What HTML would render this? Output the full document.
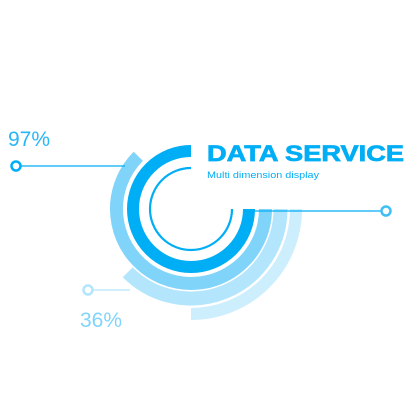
<!DOCTYPE html>
<html><head><style>html,body{margin:0;padding:0;background:#fff;}svg{display:block}</style></head>
<body>
<svg width="410" height="410" viewBox="0 0 410 410" xmlns="http://www.w3.org/2000/svg" font-family="Liberation Sans, sans-serif">
<g fill="none">
<path d="M191 314 A105 105 0 0 0 296 209" stroke="#cdeefd" stroke-width="12"/>
<path d="M127.7 272.3 A89.5 89.5 0 0 0 280.5 209" stroke="#b3e5fc" stroke-width="14"/>
<path d="M138.3 156.3 A74.5 74.5 0 1 0 265.5 209" stroke="#80d4fa" stroke-width="13"/>
<path d="M191 151 A58 58 0 1 0 249 209" stroke="#00aef5" stroke-width="12"/>
<path d="M191 168 A41 41 0 1 0 232 209" stroke="#00aef5" stroke-width="2.2"/>
<line x1="20" y1="166" x2="125" y2="166" stroke="#00aef5" stroke-width="1.2"/>
<circle cx="16" cy="166" r="4.5" stroke="#00aef5" stroke-width="2.5" fill="#fff"/>
<line x1="245" y1="211" x2="382" y2="211" stroke="#00aef5" stroke-width="1.2"/>
<circle cx="386" cy="211" r="4.5" stroke="#40bff7" stroke-width="2.5" fill="#fff"/>
<line x1="92" y1="290" x2="130" y2="290" stroke="#b3e5fc" stroke-width="1.2"/>
<circle cx="88" cy="290" r="4.5" stroke="#b3e5fc" stroke-width="2.5" fill="#fff"/>
</g>
<text x="8" y="146" font-size="21" fill="#29b6f6">97%</text>
<text x="80" y="327" font-size="21" fill="#81d4fa">36%</text>
<text x="207" y="161" font-size="22" font-weight="bold" fill="#00aef5" stroke="#00aef5" stroke-width="0.7" textLength="197" lengthAdjust="spacingAndGlyphs">DATA SERVICE</text>
<text x="207" y="178" font-size="9" fill="#00aef5" textLength="112" lengthAdjust="spacingAndGlyphs">Multi dimension display</text>
</svg>
</body></html>
